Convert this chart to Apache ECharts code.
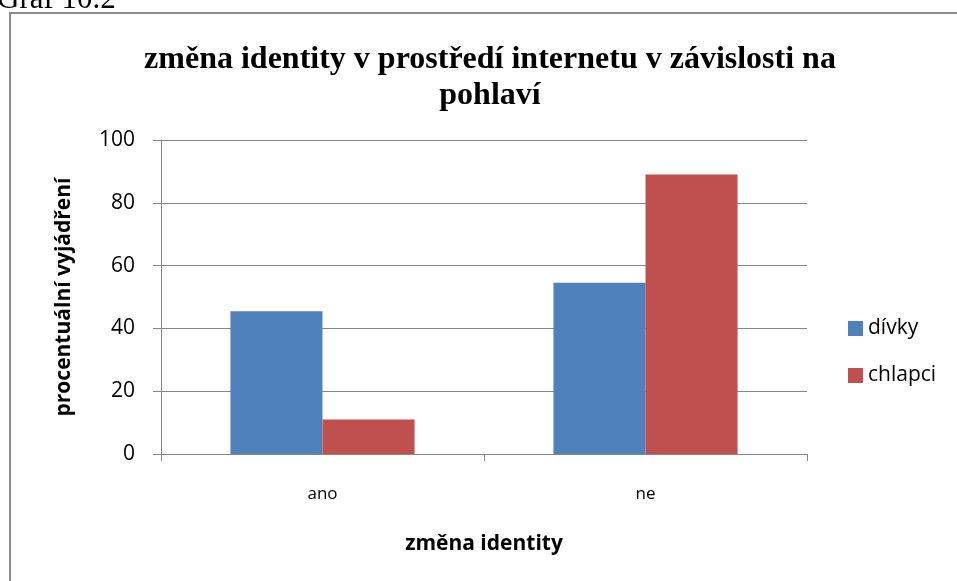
<!DOCTYPE html>
<html>
<head>
<meta charset="utf-8">
<script src="https://cdn.jsdelivr.net/npm/echarts@6/dist/echarts.min.js"></script>
<style>
  html, body { margin: 0; padding: 0; background: #fff; }
  #chart { width: 957px; height: 581px; }
</style>
</head>
<body>
<div id="chart"></div>
<script>
  // data
  var categories = ['ano', 'ne'];
  var divky = [45.5, 54.5];
  var chlapci = [11, 89];
  var seriesNames = ['dívky', 'chlapci'];

  var chart = echarts.init(document.getElementById('chart'));
  var gray = '#868686';
  var sans = '"Open Sans", "Noto Sans", sans-serif';

  chart.setOption({
    animation: false,
    title: {
      text: 'změna identity v prostředí internetu v závislosti na\npohlaví',
      left: 485,
      top: 37,
      textAlign: 'center',
      textStyle: {
        fontFamily: '"Liberation Serif", "DejaVu Serif", serif',
        fontWeight: 'bold',
        fontSize: 32,
        lineHeight: 36,
        color: '#000'
      }
    },
    graphic: [
      // outer frame of the chart, runs off the right and bottom edge
      {
        type: 'rect',
        shape: {x: 10, y: 13, width: 960, height: 600},
        style: {fill: null, stroke: '#8c8c8c', lineWidth: 2},
        z: -1
      },
      {
        type: 'text',
        left: -3,
        top: -16,
        style: {
          text: 'Graf 10.2',
          font: '31px "Liberation Serif", serif',
          fill: '#000'
        }
      }
    ],
    legend: {
      orient: 'vertical',
      left: 843,
      top: 313,
      itemWidth: 15,
      itemHeight: 15,
      itemGap: 26,
      icon: 'rect',
      textStyle: {fontFamily: sans, fontSize: 21, color: '#000'},
      data: seriesNames
    },
    grid: {left: 161, right: 150, top: 140, bottom: 127},
    xAxis: {
      type: 'category',
      data: categories,
      name: 'změna identity',
      nameLocation: 'middle',
      nameGap: 80,
      nameTextStyle: {fontFamily: sans, fontSize: 21, fontWeight: 'bold', color: '#000'},
      axisLine: {lineStyle: {color: gray}},
      axisTick: {show: true, length: 7, lineStyle: {color: gray}},
      axisLabel: {fontFamily: sans, fontSize: 17, color: '#000', margin: 32}
    },
    yAxis: {
      type: 'value',
      min: 0,
      max: 100,
      interval: 20,
      name: 'procentuální vyjádření',
      nameLocation: 'middle',
      nameGap: 86,
      nameTextStyle: {fontFamily: sans, fontSize: 21, fontWeight: 'bold', color: '#000'},
      axisLine: {show: true, lineStyle: {color: gray}},
      axisTick: {show: true, length: 8, lineStyle: {color: gray}},
      axisLabel: {fontFamily: sans, fontSize: 21, color: '#000', margin: 26},
      splitLine: {lineStyle: {color: gray, width: 1.2}}
    },
    series: [
      {
        name: seriesNames[0],
        type: 'bar',
        data: divky,
        barGap: '0%',
        barCategoryGap: '43%',
        itemStyle: {color: '#4f81bd'}
      },
      {
        name: seriesNames[1],
        type: 'bar',
        data: chlapci,
        itemStyle: {color: '#c0504d'}
      }
    ]
  });
</script>
</body>
</html>
